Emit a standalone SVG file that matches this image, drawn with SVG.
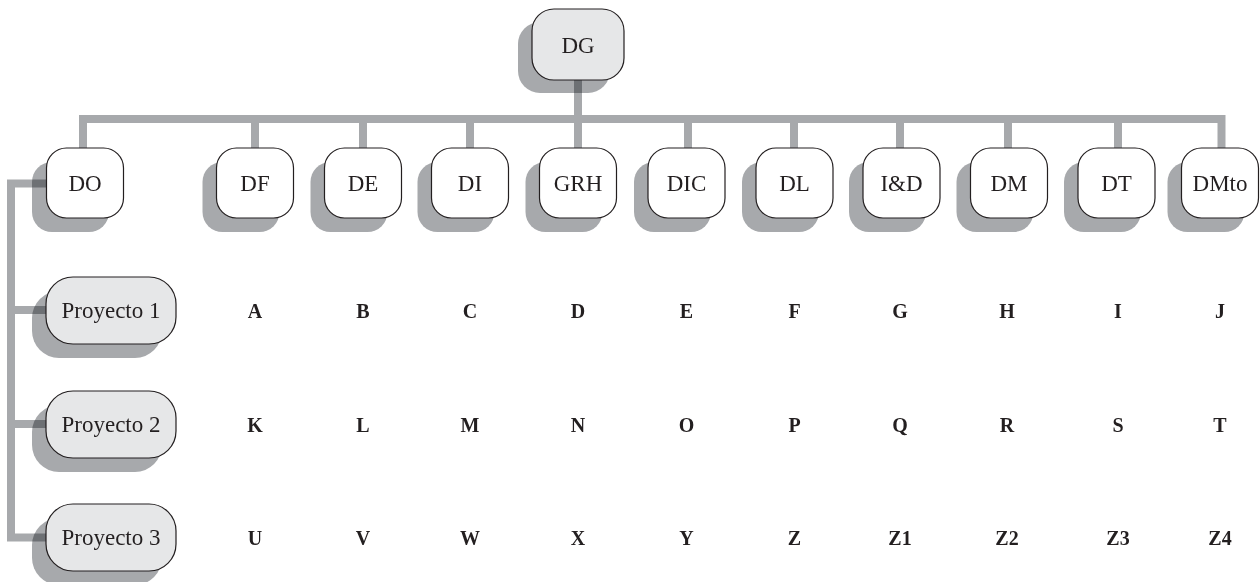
<svg xmlns="http://www.w3.org/2000/svg" width="1260" height="582" viewBox="0 0 1260 582">
<style>
.conn{fill:none;stroke:#a7a9ac;stroke-width:8;stroke-linejoin:miter;stroke-linecap:butt}
.sh{fill:#a7a9ac;mix-blend-mode:multiply}
.bw{fill:#ffffff;stroke:#231f20;stroke-width:1.2}
.bg{fill:#e6e7e8;stroke:#231f20;stroke-width:1.2}
.lbl{font-family:"Liberation Serif","Times New Roman",serif;font-size:23px;fill:#231f20;text-anchor:middle}
.let{font-family:"Liberation Serif","Times New Roman",serif;font-size:20px;font-weight:bold;fill:#231f20;text-anchor:middle}
</style>
<rect width="1260" height="582" fill="#ffffff"/>
<g id="connectors">
<path class="conn" d="M578,80 V119"/>
<path class="conn" d="M83,148 V119 H1221.5 V148"/>
<path class="conn" d="M255,119 V148 M363,119 V148 M470,119 V148 M578,119 V148 M688,119 V148 M794,119 V148 M900,119 V148 M1008,119 V148 M1118,119 V148"/>
<path class="conn" d="M46,183.5 H11 V537.5 H46 M11,310 H46 M11,424 H46"/>
</g>
<g id="node-DG">
<rect class="sh" x="518" y="22" width="92" height="71" rx="22"/>
<rect class="bg" x="532" y="9" width="92" height="71" rx="22"/>
<text class="lbl" x="578" y="52.5">DG</text>
</g>
<g id="node-DO">
<rect class="sh" x="32" y="162" width="77" height="70" rx="20"/>
<rect class="bw" x="46.5" y="148" width="77" height="70" rx="20"/>
<text class="lbl" x="85" y="191">DO</text>
</g>
<g id="node-DF">
<rect class="sh" x="202.5" y="162" width="77" height="70" rx="20"/>
<rect class="bw" x="216.5" y="148" width="77" height="70" rx="20"/>
<text class="lbl" x="255" y="191">DF</text>
</g>
<g id="node-DE">
<rect class="sh" x="310.5" y="162" width="77" height="70" rx="20"/>
<rect class="bw" x="324.5" y="148" width="77" height="70" rx="20"/>
<text class="lbl" x="363" y="191">DE</text>
</g>
<g id="node-DI">
<rect class="sh" x="417.5" y="162" width="77" height="70" rx="20"/>
<rect class="bw" x="431.5" y="148" width="77" height="70" rx="20"/>
<text class="lbl" x="470" y="191">DI</text>
</g>
<g id="node-GRH">
<rect class="sh" x="525.5" y="162" width="77" height="70" rx="20"/>
<rect class="bw" x="539.5" y="148" width="77" height="70" rx="20"/>
<text class="lbl" x="578" y="191">GRH</text>
</g>
<g id="node-DIC">
<rect class="sh" x="634" y="162" width="77" height="70" rx="20"/>
<rect class="bw" x="648" y="148" width="77" height="70" rx="20"/>
<text class="lbl" x="686.5" y="191">DIC</text>
</g>
<g id="node-DL">
<rect class="sh" x="742" y="162" width="77" height="70" rx="20"/>
<rect class="bw" x="756" y="148" width="77" height="70" rx="20"/>
<text class="lbl" x="794.5" y="191">DL</text>
</g>
<g id="node-ID">
<rect class="sh" x="849" y="162" width="77" height="70" rx="20"/>
<rect class="bw" x="863" y="148" width="77" height="70" rx="20"/>
<text class="lbl" x="901.5" y="191">I&amp;D</text>
</g>
<g id="node-DM">
<rect class="sh" x="956.5" y="162" width="77" height="70" rx="20"/>
<rect class="bw" x="970.5" y="148" width="77" height="70" rx="20"/>
<text class="lbl" x="1009" y="191">DM</text>
</g>
<g id="node-DT">
<rect class="sh" x="1064" y="162" width="77" height="70" rx="20"/>
<rect class="bw" x="1078" y="148" width="77" height="70" rx="20"/>
<text class="lbl" x="1116.5" y="191">DT</text>
</g>
<g id="node-DMto">
<rect class="sh" x="1167.5" y="162" width="77" height="70" rx="20"/>
<rect class="bw" x="1181.5" y="148" width="77" height="70" rx="20"/>
<text class="lbl" x="1220" y="191">DMto</text>
</g>
<g id="node-P1">
<rect class="sh" x="32" y="291" width="130" height="67" rx="27"/>
<rect class="bg" x="46" y="277" width="130" height="67" rx="27"/>
<text class="lbl" x="111" y="318">Proyecto 1</text>
</g>
<g id="node-P2">
<rect class="sh" x="32" y="405" width="130" height="67" rx="27"/>
<rect class="bg" x="46" y="391" width="130" height="67" rx="27"/>
<text class="lbl" x="111" y="432">Proyecto 2</text>
</g>
<g id="node-P3">
<rect class="sh" x="32" y="518" width="130" height="67" rx="27"/>
<rect class="bg" x="46" y="504" width="130" height="67" rx="27"/>
<text class="lbl" x="111" y="545">Proyecto 3</text>
</g>
<g id="matrix">
<text class="let" x="255" y="318">A</text>
<text class="let" x="363" y="318">B</text>
<text class="let" x="470" y="318">C</text>
<text class="let" x="578" y="318">D</text>
<text class="let" x="686.5" y="318">E</text>
<text class="let" x="794.5" y="318">F</text>
<text class="let" x="900" y="318">G</text>
<text class="let" x="1007" y="318">H</text>
<text class="let" x="1118" y="318">I</text>
<text class="let" x="1220" y="318">J</text>
<text class="let" x="255" y="432">K</text>
<text class="let" x="363" y="432">L</text>
<text class="let" x="470" y="432">M</text>
<text class="let" x="578" y="432">N</text>
<text class="let" x="686.5" y="432">O</text>
<text class="let" x="794.5" y="432">P</text>
<text class="let" x="900" y="432">Q</text>
<text class="let" x="1007" y="432">R</text>
<text class="let" x="1118" y="432">S</text>
<text class="let" x="1220" y="432">T</text>
<text class="let" x="255" y="545">U</text>
<text class="let" x="363" y="545">V</text>
<text class="let" x="470" y="545">W</text>
<text class="let" x="578" y="545">X</text>
<text class="let" x="686.5" y="545">Y</text>
<text class="let" x="794.5" y="545">Z</text>
<text class="let" x="900" y="545">Z1</text>
<text class="let" x="1007" y="545">Z2</text>
<text class="let" x="1118" y="545">Z3</text>
<text class="let" x="1220" y="545">Z4</text>
</g>
</svg>
